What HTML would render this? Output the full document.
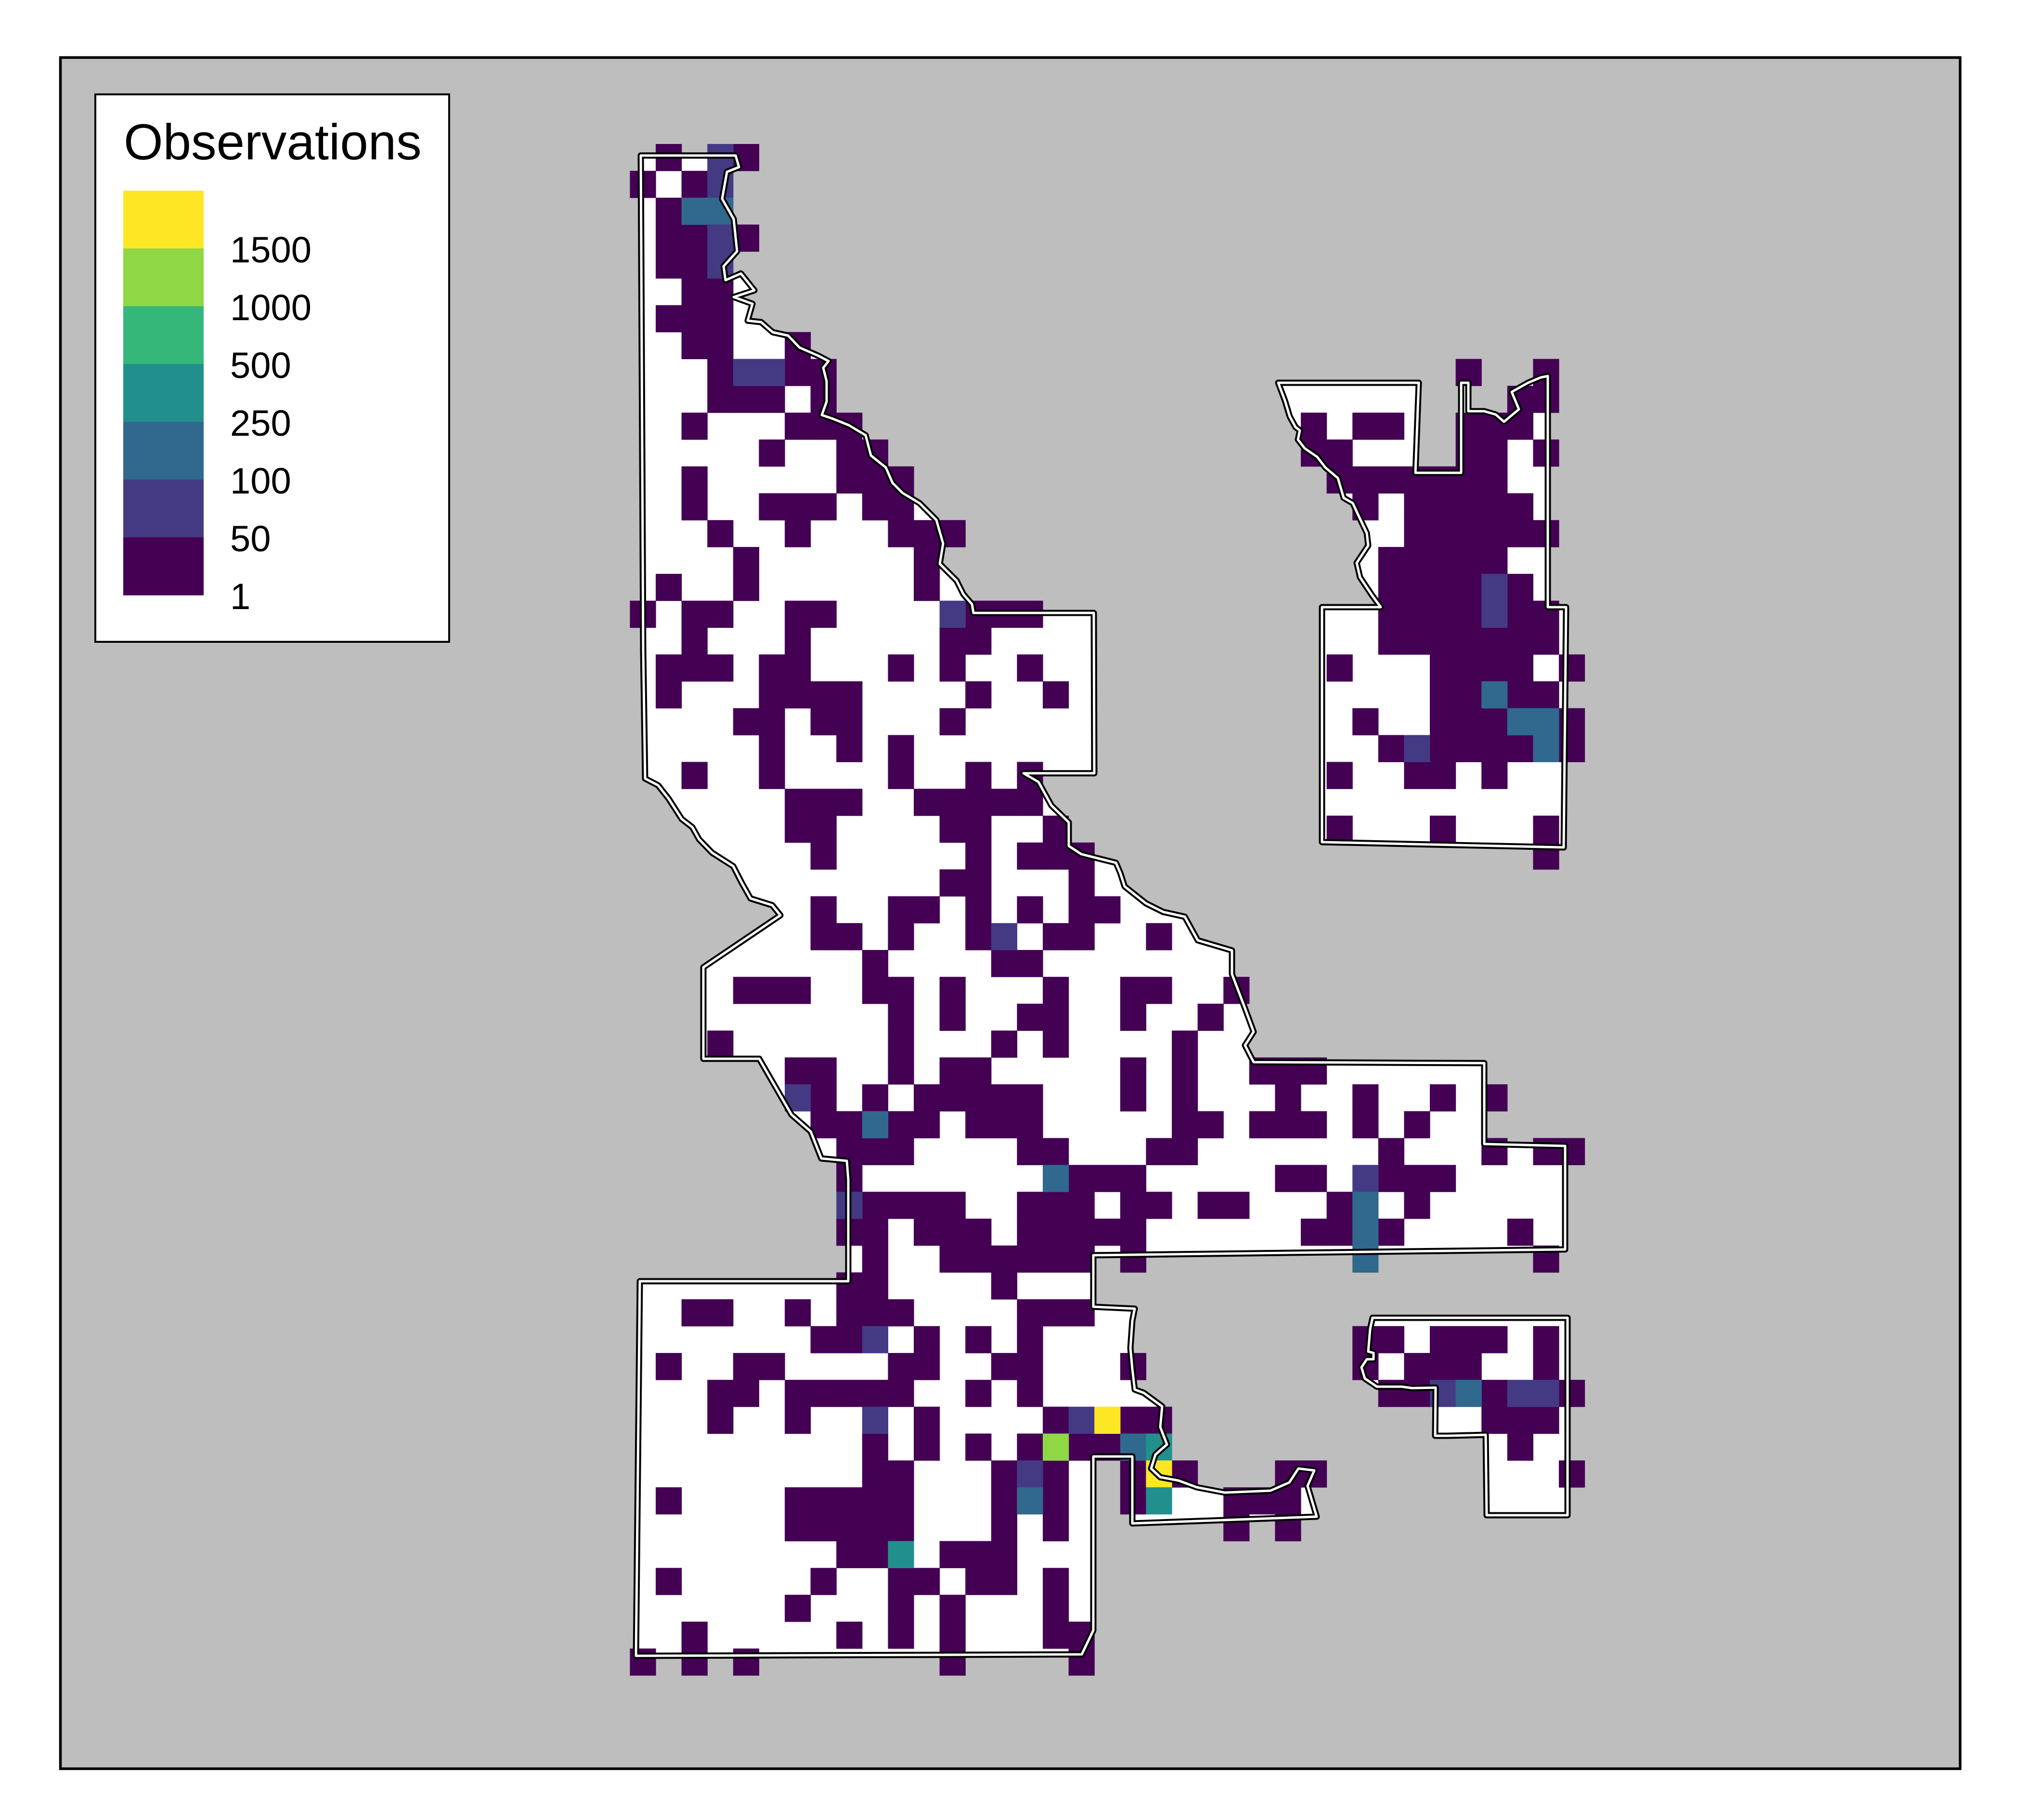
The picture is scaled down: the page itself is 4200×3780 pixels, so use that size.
<!DOCTYPE html>
<html><head><meta charset="utf-8"><style>
html,body{margin:0;padding:0;background:#fff;}
svg{display:block;}
text{font-family:"Liberation Sans",Arial,sans-serif;fill:#000;}
</style></head><body>
<svg id="chart" width="4200" height="3780" viewBox="0 0 4200 3780" xmlns="http://www.w3.org/2000/svg">
<defs>
<path id="p-main" d="M1331,323 L1528,323 L1535,347 L1510,357 L1500,413 L1524,455 L1531,522 L1503,553 L1507,582 L1539,568 L1567,603 L1524,617 L1563,631 L1553,666 L1581,669 L1605,690 L1637,697 L1661,722 L1700,739 L1721,750 L1710,764 L1717,792 L1717,834 L1707,862 L1728,869 L1763,883 L1798,904 L1809,946 L1840,971 L1854,1003 L1875,1024 L1910,1045 L1945,1080 L1959,1129 L1952,1171 L1987,1206 L2001,1234 L2019,1255 L2022,1273 L2272,1273 L2273,1606 L2126,1606 L2157,1624 L2184,1673 L2220,1708 L2220,1757 L2246,1774 L2318,1792 L2327,1813 L2336,1841 L2380,1876 L2416,1894 L2461,1904 L2488,1953 L2559,1974 L2559,2023 L2586,2094 L2604,2143 L2586,2171 L2604,2206 L3083,2208 L3083,2376 L3251,2380 L3251,2595 L2271,2607 L2271,2714 L2357,2718 L2352,2743 L2348,2800 L2352,2843 L2357,2886 L2376,2893 L2414,2921 L2410,2964 L2424,3000 L2400,3021 L2391,3050 L2410,3068 L2448,3075 L2486,3089 L2544,3100 L2639,3096 L2678,3079 L2697,3050 L2730,3054 L2716,3086 L2735,3150 L2352,3164 L2352,3025 L2271,3025 L2271,3386 L2247,3436 L1321,3439 L1329,2661 L1762,2661 L1762,2450 L1759,2411 L1706,2406 L1684,2350 L1644,2315 L1577,2199 L1461,2199 L1461,2009 L1621,1901 L1604,1880 L1559,1866 L1541,1834 L1523,1799 L1479,1771 L1452,1743 L1438,1718 L1416,1701 L1389,1659 L1367,1631 L1340,1617 L1336,1350 Z"/>
<path id="p-ne" d="M2655,795 L2947,795 L2940,982 L3035,982 L3035,795 L3050,795 L3050,854 L3083,854 L3107,861 L3124,876 L3155,850 L3140,814 L3174,795 L3200,784 L3215,781 L3215,1261 L3253,1261 L3248,1760 L2746,1749 L2746,1261 L2868,1261 L2849,1235 L2825,1199 L2818,1169 L2842,1133 L2839,1107 L2820,1067 L2810,1045 L2791,1034 L2779,993 L2753,971 L2736,949 L2710,931 L2696,913 L2700,894 L2691,887 L2679,865 L2669,832 Z"/>
<path id="p-se" d="M2851,2737 L3256,2737 L3256,3147 L3088,3147 L3086,2980 L3007,2982 L2981,2982 L2982,2882 L2933,2883 L2912,2880 L2860,2880 L2835,2863 L2828,2840 L2839,2823 L2853,2823 L2853,2810 L2842,2807 L2846,2760 Z"/>
</defs>
<rect x="0" y="0" width="4200" height="3780" fill="#fff"/>
<rect x="125.5" y="119.5" width="3946" height="3554" fill="#bebebe" stroke="#000" stroke-width="5.5"/>
<g id="fills">
<use href="#p-main" fill="#fff"/>
<use href="#p-ne" fill="#fff"/>
<use href="#p-se" fill="#fff"/>
</g>
<g id="cells"></g>
<g id="outlines">
<use href="#p-main" fill="none" stroke="#000" stroke-width="13" stroke-linejoin="round"/>
<use href="#p-ne" fill="none" stroke="#000" stroke-width="13" stroke-linejoin="round"/>
<use href="#p-se" fill="none" stroke="#000" stroke-width="13" stroke-linejoin="round"/>
<use href="#p-main" fill="none" stroke="#fff" stroke-width="5" stroke-linejoin="round"/>
<use href="#p-ne" fill="none" stroke="#fff" stroke-width="5" stroke-linejoin="round"/>
<use href="#p-se" fill="none" stroke="#fff" stroke-width="5" stroke-linejoin="round"/>
</g>
<g id="legend">
<rect x="198" y="196" width="735" height="1137" fill="#fff" stroke="#000" stroke-width="4"/>
<text x="257" y="331" font-size="105">Observations</text>
<g id="legend-swatches"></g>
</g>
</svg>
<script>
// legend classes
const levelColors = ['#440154','#443A83','#31688E','#21908C','#35B779','#8FD744','#FDE725'];
const legendLabels = ['1','50','100','250','500','1000','1500'];
// grid cells with 1-49 observations, listed per grid row (column indices)
const level1Rows = [
[1,4],[0,2],[1],[1,2,4],[1,2],[2,3],[1,2,3],[2,3,6],
[3,6,7,32,35],[3,4,5,7,34,35],[2,6,7,8,26,28,29,32,33,34],[5,8,9,26,27,32,33,35],
[2,8,9,10,27,28,29,30,31,32,33],[2,5,6,7,9,10,28,30,31,32,33,34],[3,6,10,11,12,30,31,32,33,34,35],
[4,11,29,30,31,32,33],[1,4,11,29,30,31,32,34],[0,2,3,6,7,13,14,15,29,30,31,32,34,35],
[2,6,12,13,29,30,31,32,33,34,35],[1,2,3,5,6,10,12,15,27,31,32,33,34,36],[1,5,6,7,8,13,16,31,32,34,35],
[4,5,7,8,12,28,31,32,33,36],[5,8,10,29,31,32,33,34,36],[2,5,10,13,15,27,30,31,33],
[6,7,8,11,12,13,14,15],[6,7,12,13,16,27,31,35],[7,13,15,16,17,35],[12,13,17],
[7,10,11,13,15,17,18],[7,8,10,13,16,17,20],[9,14,15],[4,5,6,9,10,12,16,19,20,23],
[10,12,15,16,19,22],[3,10,14,16,21],[6,7,10,12,13,19,21,24,25,26],
[7,9,11,12,13,14,15,19,21,25,28,31,33],[7,8,10,11,13,14,15,21,22,24,25,26,28,30],
[8,9,10,15,16,20,21,29,33,35,36],[8,17,18,19,25,26,29,30,31],
[9,10,11,12,15,16,17,19,20,22,23,27,30],[8,9,11,12,13,15,16,17,18,19,26,27,29,34],
[9,12,13,14,15,16,17,19,35],[8,9,14],[2,3,6,8,9,10,15,16,17],
[7,8,11,13,15,28,29,31,32,33,35],[1,4,5,10,11,14,15,19,28,30,31,32,35],
[3,4,6,7,8,9,10,13,15,29,30,33,36],[3,6,11,16,19,20,33,34,35],[9,11,13,15,17,18,34],
[9,10,14,16,19,21,25,26,36],[1,6,7,8,9,10,14,16,19,23,24,25],[6,7,8,9,10,14,16,23,25],
[8,9,12,13,14],[1,7,10,11,13,14,16],[6,10,12,16],[2,8,10,12,16,17],[0,2,4,12,17]
];
// higher-count cells: [row, col, level]
const highCells = [
[0,3,2],[1,3,2],[2,2,3],[2,3,3],[3,3,2],[4,3,2],[8,4,2],[8,5,2],[16,33,2],[17,12,2],[17,33,2],
[20,33,3],[21,34,3],[21,35,3],[22,30,2],[22,35,3],[29,14,2],[35,6,2],[36,9,3],[38,16,3],[38,28,2],
[39,8,2],[39,28,3],[40,28,3],[41,28,3],[44,9,2],[46,31,2],[46,32,3],[46,34,2],[46,35,2],
[47,9,2],[47,17,2],[47,18,7],[48,16,6],[48,19,3],[48,20,4],[49,15,2],[49,20,7],[50,15,3],[50,20,4],[52,10,4]
];

const NS='http://www.w3.org/2000/svg';
const gx0=1308.4, cw=53.6, gy0=299, ch=55.8;
function xScale(c){return gx0+c*cw;}
function yScale(r){return gy0+r*ch;}
const cellsG=document.getElementById('cells');
function addCell(r,c,lvl){
  const el=document.createElementNS(NS,'rect');
  el.setAttribute('x',xScale(c).toFixed(1));
  el.setAttribute('y',yScale(r).toFixed(1));
  el.setAttribute('width',(cw+0.6).toFixed(1));
  el.setAttribute('height',(ch+0.6).toFixed(1));
  el.setAttribute('fill',levelColors[lvl-1]);
  
  
  cellsG.appendChild(el);
}
level1Rows.forEach((cols,r)=>cols.forEach(c=>addCell(r,c,1)));
highCells.forEach(d=>addCell(d[0],d[1],d[2]));

const lg=document.getElementById('legend-swatches');
const swTop=396, swH=120;
for(let i=0;i<levelColors.length;i++){
  const k=levelColors.length-1-i;
  const s=document.createElementNS(NS,'rect');
  s.setAttribute('x',256);s.setAttribute('y',swTop+i*swH);
  s.setAttribute('width',167);s.setAttribute('height',swH+0.5);
  s.setAttribute('fill',levelColors[k]);
  
  
  lg.appendChild(s);
}
for(let i=0;i<legendLabels.length;i++){
  const k=legendLabels.length-1-i;
  const t=document.createElementNS(NS,'text');
  t.setAttribute('x',478);t.setAttribute('y',545+i*120);
  t.setAttribute('font-size','76');
  t.textContent=legendLabels[k];
  
  
  lg.appendChild(t);
}
</script>
</body></html>
